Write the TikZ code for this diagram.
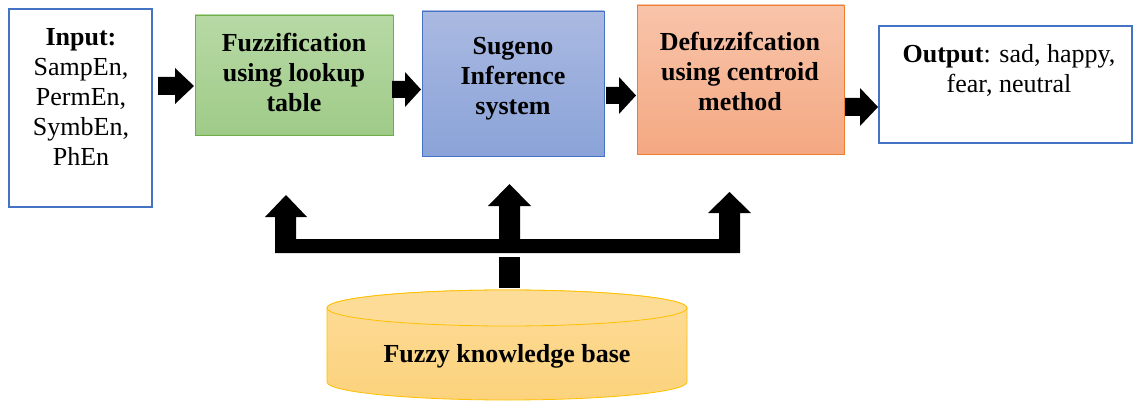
\documentclass[tikz,border=0pt]{standalone}
\usepackage{fontspec}
\setmainfont{Liberation Serif}
\definecolor{obblue}{HTML}{4472C4}
\definecolor{obgreen}{HTML}{70AD47}
\definecolor{gtop}{HTML}{B7D9A5}
\definecolor{gbot}{HTML}{9FCB88}
\definecolor{btop}{HTML}{AAB9E1}
\definecolor{bbot}{HTML}{8AA3D8}
\definecolor{oborange}{HTML}{ED7D31}
\definecolor{otop}{HTML}{F8C4AA}
\definecolor{obot}{HTML}{F4A882}
\definecolor{ygold}{HTML}{FFC000}
\definecolor{ytop}{HTML}{FDDC98}
\definecolor{ybot}{HTML}{FCD27C}
\begin{document}
\begin{tikzpicture}[x=1pt,y=-1pt,
  box/.style={inner sep=0pt, outer sep=0pt, anchor=north west},
  txt/.style={font=\fontsize{26}{30}\selectfont, align=center, inner sep=0pt},
  barrow/.style={fill=black, draw=none}]
\useasboundingbox (0,0) rectangle (1133,401);

% boxes
\node[box, draw=obblue, line width=1.6pt, fill=white, minimum width=143pt, minimum height=198pt] (in) at (9,9) {};
\node[box, draw=obgreen, line width=0.8pt, top color=gtop, bottom color=gbot, minimum width=198pt, minimum height=120pt] (fz) at (195,15) {};
\node[box, draw=obblue, line width=0.8pt, top color=btop, bottom color=bbot, minimum width=182pt, minimum height=145pt] (su) at (422,11) {};
\node[box, draw=oborange, line width=0.8pt, top color=otop, bottom color=obot, minimum width=207pt, minimum height=149pt] (de) at (637,5) {};
\node[box, draw=obblue, line width=1.6pt, fill=white, minimum width=253pt, minimum height=117pt] (out) at (879,26) {};

% texts
\node[txt] (intext) at (81,97) {\textbf{Input:}\\SampEn,\\PermEn,\\SymbEn,\\PhEn};
\node[txt] (fztext) at (294,72) {\textbf{Fuzzification}\\\textbf{using lookup}\\\textbf{table}};
\node[txt] (sutext) at (513,79) {\textbf{Sugeno}\\\textbf{Inference}\\\textbf{system}};
\node[txt] (detext) at (740,71) {\textbf{Defuzzifcation}\\\textbf{using centroid}\\\textbf{method}};
\node[txt] (outtext) at (1009,70) {\textbf{Output}: sad, happy,\\fear, neutral};

% block arrows between boxes
\fill[barrow] (158,77) -- (175,77) -- (175,68) -- (194,86) -- (175,104) -- (175,95) -- (158,95) -- cycle;
\fill[barrow] (392,81) -- (405,81) -- (405,72) -- (421,89.5) -- (405,107) -- (405,98) -- (392,98) -- cycle;
\fill[barrow] (606,87) -- (619,87) -- (619,77) -- (636,95.5) -- (619,114) -- (619,104) -- (606,104) -- cycle;
\fill[barrow] (845,98) -- (860,98) -- (860,88) -- (878,107) -- (860,126) -- (860,116) -- (845,116) -- cycle;

% knowledge base distribution arrows
\fill[barrow] (275,253) -- (275,217) -- (265,217) -- (286,195) -- (307,217) -- (296,217) -- (296,239)
  -- (499,239) -- (499,206) -- (488,206) -- (509.5,184) -- (531,206) -- (520,206) -- (520,239)
  -- (719,239) -- (719,213) -- (708,213) -- (729.5,192) -- (751,213) -- (740,213) -- (740,253) -- cycle;
\fill[barrow] (499,257) rectangle (520,288);

% cylinder
\path[draw=ygold, line width=0.8pt, top color=ytop, bottom color=ybot]
  (327,308) -- (327,382) arc[start angle=180, end angle=360, x radius=180pt, y radius=18pt]
  -- (687,308) arc[start angle=0, end angle=180, x radius=180pt, y radius=18pt] -- cycle;
\path[draw=ygold, line width=0.8pt, fill=ytop] (507,308) ellipse[x radius=180pt, y radius=18pt];
\node[txt, anchor=base] (kb) at (507,362) {\textbf{Fuzzy knowledge base}};
\end{tikzpicture}
\end{document}
